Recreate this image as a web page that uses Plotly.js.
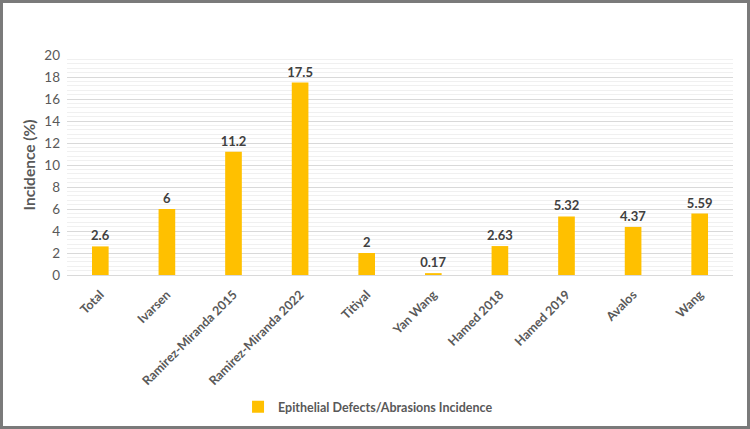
<!DOCTYPE html>
<html>
<head>
<meta charset="utf-8">
<script src="https://cdn.plot.ly/plotly-3.0.1.min.js"></script>
<style>
html,body{margin:0;padding:0;background:#fff;}
#wrap{position:relative;width:750px;height:429px;}
#chart{width:750px;height:429px;}
#frame{position:absolute;left:0;top:0;width:750px;height:429px;box-sizing:border-box;border:3px solid #7a7a7a;pointer-events:none;}
</style>
</head>
<body>
<div id="wrap"><div id="chart"></div><div id="frame"></div></div>
<script>
const categories = ["Total","Ivarsen","Ramirez-Miranda 2015","Ramirez-Miranda 2022","Titiyal","Yan Wang","Hamed 2018","Hamed 2019","Avalos","Wang"];
const values = [2.6, 6, 11.2, 17.5, 2, 0.17, 2.63, 5.32, 4.37, 5.59];
const valueLabels = ["2.6","6","11.2","17.5","2","0.17","2.63","5.32","4.37","5.59"];
const seriesName = "Epithelial Defects/Abrasions Incidence";
const yTicks = [0,2,4,6,8,10,12,14,16,18,20];

const font = "Lato, 'Open Sans', sans-serif";
const trace = {
  type: "bar",
  x: categories,
  y: values,
  name: seriesName,
  text: valueLabels,
  textposition: "outside",
  constraintext: "none",
  cliponaxis: false,
  textfont: {family: font, size: 13, color: "#404040", weight: "bold"},
  marker: {color: "#FFC000"},
  width: 0.25
};
const layout = {
  width: 750, height: 429,
  margin: {l: 67, r: 17, t: 55, b: 154},
  paper_bgcolor: "#fff", plot_bgcolor: "#fff",
  font: {family: font, color: "#595959"},
  showlegend: true,
  legend: {orientation: "h", x: 0.452, xanchor: "center", yref: "container", y: 0.051, yanchor: "middle",
    itemwidth: 30,
    font: {family: font, size: 12.5, color: "#595959", weight: "bold"}},
  xaxis: {
    type: "category", tickangle: -45, showgrid: false, showline: false, ticks: "",
    automargin: false, ticklabelstandoff: 9,
    tickfont: {family: font, size: 12.5, color: "#595959", weight: "bold"}
  },
  yaxis: {
    range: [0, 20], tickvals: yTicks, ticktext: yTicks.map(String),
    automargin: false,
    showgrid: true, gridcolor: "#d9d9d9", gridwidth: 1,
    zeroline: true, zerolinecolor: "#d9d9d9", zerolinewidth: 1,
    minor: {dtick: 0.4, showgrid: true, gridcolor: "#f0f0f0", gridwidth: 1, ticks: ""},
    ticks: "", ticklen: 0, ticklabelstandoff: 6, tickfont: {family: font, size: 13.5, color: "#595959"},
    title: {text: "Incidence (%)", font: {family: font, size: 15.5, color: "#595959", weight: "bold"}, standoff: 4}
  }
};
Plotly.newPlot("chart", [trace], layout, {displayModeBar: false, staticPlot: true});
</script>
</body>
</html>
